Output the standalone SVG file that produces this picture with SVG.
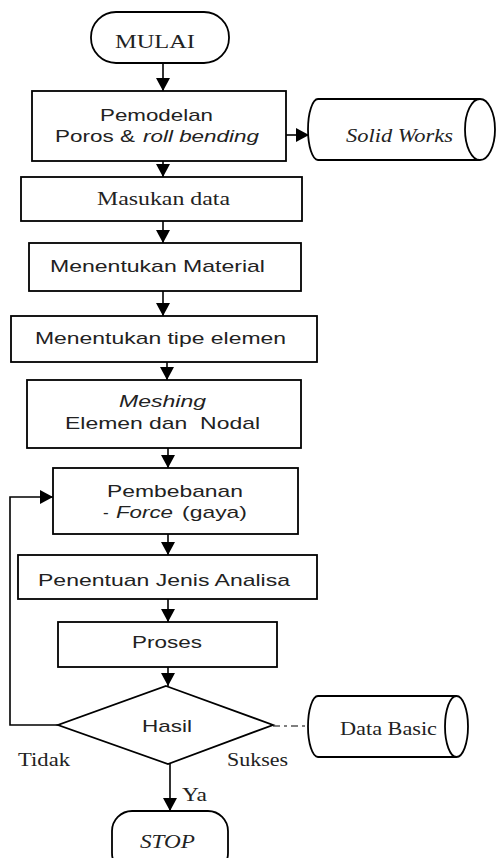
<svg xmlns="http://www.w3.org/2000/svg" width="496" height="858" viewBox="0 0 496 858">
<style>
.s{fill:none;stroke:#000;stroke-width:1.8}
.b{fill:#fff;stroke:#000;stroke-width:1.8}
.c{fill:none;stroke:#000;stroke-width:1.6}
.sans{font-family:"Liberation Sans",Arial,sans-serif;font-size:17px;fill:#222}
.ser{font-family:"Liberation Serif","Times New Roman",serif;font-size:18px;fill:#222}
.it{font-style:italic}
</style>
<defs>
<marker id="ah" markerUnits="userSpaceOnUse" markerWidth="14" markerHeight="14" refX="13" refY="7" orient="auto">
<path d="M0,0 L13,7 L0,14 Z" fill="#000"/>
</marker>
</defs>
<rect width="496" height="858" fill="#fff"/>
<g id="connectors">
<line class="c" x1="163" y1="63" x2="163" y2="91" marker-end="url(#ah)"/>
<line class="c" x1="163" y1="161" x2="163" y2="177" marker-end="url(#ah)"/>
<line class="c" x1="286" y1="135" x2="309" y2="135" marker-end="url(#ah)"/>
<line class="c" x1="163" y1="221" x2="163" y2="243" marker-end="url(#ah)"/>
<line class="c" x1="163" y1="291" x2="163" y2="316" marker-end="url(#ah)"/>
<line class="c" x1="167" y1="362" x2="167" y2="380" marker-end="url(#ah)"/>
<line class="c" x1="168" y1="448" x2="168" y2="468" marker-end="url(#ah)"/>
<line class="c" x1="168" y1="534" x2="168" y2="555" marker-end="url(#ah)"/>
<line class="c" x1="168" y1="599" x2="168" y2="622" marker-end="url(#ah)"/>
<line class="c" x1="168" y1="667" x2="168" y2="686" marker-end="url(#ah)"/>
<line class="c" x1="170" y1="764" x2="170" y2="811" marker-end="url(#ah)"/>
<polyline class="c" points="58,725 10,725 10,497 53,497" marker-end="url(#ah)"/>
<line x1="273" y1="726" x2="308" y2="726" stroke="#555" stroke-width="1.4" stroke-dasharray="7 4 3 4"/>
</g>
<g id="mulai">
<rect class="b" x="91" y="12" width="138" height="51" rx="25"/>
<text class="ser" x="115" y="48" textLength="80" lengthAdjust="spacingAndGlyphs">MULAI</text>
</g>
<g id="pemodelan">
<rect class="b" x="32" y="91" width="254" height="70"/>
<text class="sans" x="100" y="121" textLength="113" lengthAdjust="spacingAndGlyphs">Pemodelan</text>
<text class="sans" x="55" y="142" textLength="80" lengthAdjust="spacingAndGlyphs">Poros &amp;</text>
<text class="sans it" x="143" y="142" textLength="116" lengthAdjust="spacingAndGlyphs">roll bending</text>
</g>
<g id="solidworks">
<path class="b" d="M480,99 L318,99 A10,30.5 0 0 0 318,160 L480,160"/>
<ellipse class="b" cx="480" cy="129.5" rx="15" ry="30.5"/>
<text class="ser it" x="346" y="142" textLength="107" lengthAdjust="spacingAndGlyphs">Solid Works</text>
</g>
<g id="masukan">
<rect class="b" x="21" y="177" width="281" height="44"/>
<text class="ser" x="97" y="205" textLength="133" lengthAdjust="spacingAndGlyphs">Masukan data</text>
</g>
<g id="material">
<rect class="b" x="29" y="243" width="272" height="48"/>
<text class="sans" x="50" y="272" textLength="215" lengthAdjust="spacingAndGlyphs">Menentukan Material</text>
</g>
<g id="tipe">
<rect class="b" x="11" y="316" width="306" height="46"/>
<text class="sans" x="35" y="344" textLength="251" lengthAdjust="spacingAndGlyphs">Menentukan tipe elemen</text>
</g>
<g id="meshing">
<rect class="b" x="27" y="380" width="274" height="68"/>
<text class="sans it" x="119" y="407" textLength="87" lengthAdjust="spacingAndGlyphs">Meshing</text>
<text class="sans" x="65" y="429" textLength="195" lengthAdjust="spacingAndGlyphs" style="white-space:pre">Elemen dan  Nodal</text>
</g>
<g id="pembebanan">
<rect class="b" x="53" y="468" width="245" height="66"/>
<text class="sans" x="107" y="497" textLength="136" lengthAdjust="spacingAndGlyphs">Pembebanan</text>
<text class="sans" x="103" y="518">-</text>
<text class="sans it" x="116" y="518" textLength="57" lengthAdjust="spacingAndGlyphs">Force</text>
<text class="sans" x="182" y="518" textLength="65" lengthAdjust="spacingAndGlyphs">(gaya)</text>
</g>
<g id="analisa">
<rect class="b" x="18" y="555" width="299" height="44"/>
<text class="sans" x="38" y="586" textLength="252" lengthAdjust="spacingAndGlyphs">Penentuan Jenis Analisa</text>
</g>
<g id="proses">
<rect class="b" x="58" y="622" width="219" height="45"/>
<text class="sans" x="132" y="648" textLength="70" lengthAdjust="spacingAndGlyphs">Proses</text>
</g>
<g id="hasil">
<polygon class="b" points="166,686 273,725 168,764 58,725"/>
<text class="sans" x="142" y="732" textLength="50" lengthAdjust="spacingAndGlyphs">Hasil</text>
</g>
<g id="databasic">
<path class="b" d="M456.5,696 L318,696 A10,30.5 0 0 0 318,757 L456.5,757"/>
<ellipse class="b" cx="456.5" cy="726.5" rx="11.5" ry="30.5"/>
<text class="ser" x="340" y="735" textLength="97" lengthAdjust="spacingAndGlyphs">Data Basic</text>
</g>
<g id="labels">
<text class="ser" x="18" y="766" textLength="52" lengthAdjust="spacingAndGlyphs">Tidak</text>
<text class="ser" x="227" y="766" textLength="61" lengthAdjust="spacingAndGlyphs">Sukses</text>
<text class="ser" x="182" y="801" textLength="25" lengthAdjust="spacingAndGlyphs">Ya</text>
</g>
<g id="stop">
<rect class="b" x="112" y="811" width="116" height="62" rx="20"/>
<text class="ser it" x="140" y="848" textLength="55" lengthAdjust="spacingAndGlyphs">STOP</text>
</g>
</svg>
